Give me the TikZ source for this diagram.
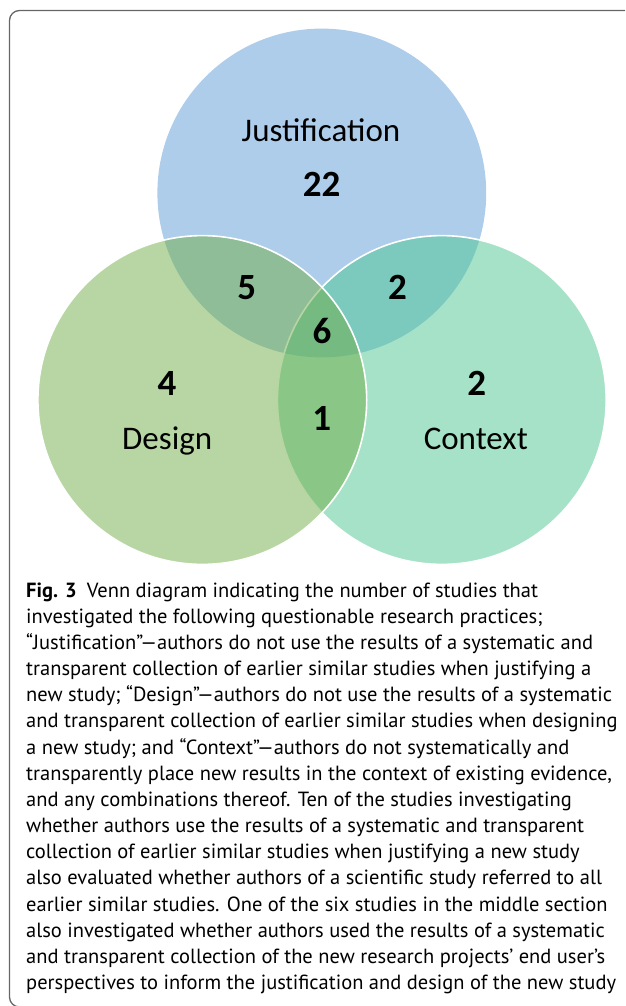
\documentclass[tikz,border=0pt]{standalone}
\usepackage{fontspec}
\setmainfont{PT Sans}
\newfontfamily\vennfont{Carlito}
\definecolor{justblue}{HTML}{5B9BD5}
\definecolor{contmint}{HTML}{4DC591}
\definecolor{desgreen}{HTML}{70AD47}
\tikzset{venn/.style={circle,inner sep=0pt,minimum size=328.8pt,fill opacity=0.5,draw opacity=1,line width=1.6pt}}
\tikzset{setname/.style={font=\vennfont\fontsize{33}{36}\selectfont,anchor=base,inner sep=0pt}}
\tikzset{num/.style={font=\vennfont\bfseries\fontsize{37}{40}\selectfont,anchor=base,inner sep=0pt}}
\tikzset{capline/.style={font=\fontsize{20.5}{26}\selectfont,anchor=base west,inner sep=0pt}}
\tikzset{frame/.style={draw=black!60,line width=1.3pt,rounded corners=10pt}}

\begin{document}
\begin{tikzpicture}[x=1pt,y=-1pt]
    \useasboundingbox (0,0) rectangle (625,1006);
    \begin{scope}
        \clip (0,0) rectangle (625,1006);
        \draw[frame] (9.5,10.5) rectangle (660,1007);
    \end{scope}

    % the three sets
    \node[venn,fill=justblue] (just) at (321.8,193) {};
    \node[venn,fill=contmint,draw=white] (cont) at (441.8,400) {};
    \node[venn,fill=desgreen,draw=white] (des) at (202.3,400) {};

    \node[setname] (justname) at (321,141.7) {Justification};
    \node[setname] (desname) at (167.2,449.3) {Design};
    \node[setname] (contname) at (475.8,449.3) {Context};

    \node[num] (njust) at (321.5,196.7) {22};
    \node[num] (njd) at (246.7,299.3) {5};
    \node[num] (njc) at (397.6,299.3) {2};
    \node[num] (nall) at (322,343.3) {6};
    \node[num] (ndes) at (167,395) {4};
    \node[num] (ncont) at (476.7,395) {2};
    \node[num] (ndc) at (321.7,430.7) {1};

    % caption, one node per printed line
    \foreach \ln [count=\k] in {
        {\textbf{Fig. 3}\enspace Venn diagram indicating the number of studies that},
        {investigated the following questionable research practices;},
        {“Justification”—authors do not use the results of a systematic and},
        {transparent collection of earlier similar studies when justifying a},
        {new study; “Design”—authors do not use the results of a systematic},
        {and transparent collection of earlier similar studies when designing},
        {a new study; and “Context”—authors do not systematically and},
        {transparently place new results in the context of existing evidence,},
        {and any combinations thereof. Ten of the studies investigating},
        {whether authors use the results of a systematic and transparent},
        {collection of earlier similar studies when justifying a new study},
        {also evaluated whether authors of a scientific study referred to all},
        {earlier similar studies. One of the six studies in the middle section},
        {also investigated whether authors used the results of a systematic},
        {and transparent collection of the new research projects’ end user’s},
        {perspectives to inform the justification and design of the new study}}
        \node[capline] (cap\k) at (26,{597+26.17*(\k-1)}) {\ln};
\end{tikzpicture}
\end{document}
